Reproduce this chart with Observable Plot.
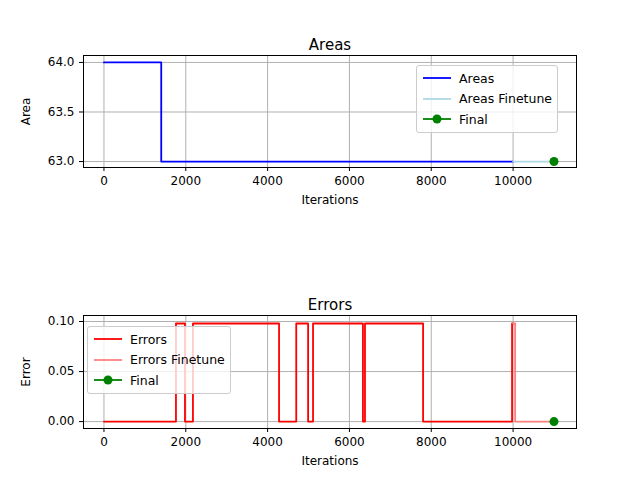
<!DOCTYPE html>
<html><head><meta charset="utf-8">
<script src="https://cdn.jsdelivr.net/npm/d3@7"></script>
<script src="https://cdn.jsdelivr.net/npm/@observablehq/plot@0.6"></script>
<style>
body{margin:0;background:#fff;font-family:"DejaVu Sans",sans-serif}
.panel{position:relative;width:640px;height:240px}
.legend{position:absolute;background:rgba(255,255,255,0.8);border:1px solid #ccc;border-radius:3px;font-size:12.5px;padding:2px 5px 2px 6px}
.legend div{display:flex;align-items:center;height:20.5px}
.legend svg{margin-right:8px}
</style></head><body>
<div id="top" class="panel"></div>
<div id="bottom" class="panel"></div>
<script>
// Areas (step series)
const areaX = [0, 1400, 9999];
const areaY = [64, 63, 63];
const areaFtX = [10000, 11000];
const areaFtY = [63, 63];
// Errors (step series)
const errX = [0, 1760, 1980, 2175, 4280, 4700, 4990, 5110, 6330, 6380, 7800, 9975, 9999];
const errY = [0, 0.098, 0, 0.098, 0, 0.098, 0, 0.098, 0, 0.098, 0, 0.098, 0.098];
const errFtX = [10000, 10050, 11000];
const errFtY = [0.098, 0, 0];
const finalX = 11000;
const finalArea = 63;
const finalErr = 0;

const pts = (xs, ys) => xs.map((x, i) => ({x, y: ys[i]}));

function panel(opts) {
  return Plot.plot({
    width: 640, height: 240,
    marginLeft: 83, marginRight: 64, marginTop: opts.mt, marginBottom: opts.mb,
    style: {fontFamily: "DejaVu Sans", fontSize: "12px", color: "#000"},
    x: {domain: [-500, 11550], ticks: [0, 2000, 4000, 6000, 8000, 10000], tickFormat: d => String(d),
        label: "Iterations", labelAnchor: "center", labelOffset: 36, labelArrow: "none", grid: false, tickSize: 4},
    y: {domain: opts.ydom, ticks: opts.yticks, tickFormat: opts.fmt, label: opts.ylabel,
        labelAnchor: "center", labelOffset: 62, labelArrow: "none", tickSize: 4},
    marks: [
      Plot.gridX([0, 2000, 4000, 6000, 8000, 10000], {stroke: "#b0b0b0", strokeOpacity: 1}),
      Plot.gridY(opts.yticks, {stroke: "#b0b0b0", strokeOpacity: 1}),
      Plot.line(opts.main, {x: "x", y: "y", curve: "step-after", stroke: opts.c1, strokeWidth: 1.8}),
      Plot.line(opts.ft, {x: "x", y: "y", curve: "step-after", stroke: opts.c2, strokeWidth: 1.8}),
      Plot.dot([opts.fin], {x: "x", y: "y", r: 4.5, fill: "green"}),
      Plot.frame({stroke: "#000"}),
      Plot.text([opts.title], {frameAnchor: "top", dy: -6, fontSize: 15, textAnchor: "middle", lineAnchor: "bottom"})
    ]
  });
}

document.getElementById("top").appendChild(panel({
  mt: 55, mb: 73, ydom: [62.94, 64.07], yticks: [63, 63.5, 64], fmt: d3.format(".1f"), ylabel: "Area",
  main: pts(areaX, areaY), ft: pts(areaFtX, areaFtY), fin: {x: finalX, y: finalArea},
  c1: "blue", c2: "lightblue", title: "Areas"
}));
document.getElementById("bottom").appendChild(panel({
  mt: 75, mb: 52, ydom: [-0.0069, 0.106], yticks: [0, 0.05, 0.1], fmt: d3.format(".2f"), ylabel: "Error",
  main: pts(errX, errY), ft: pts(errFtX, errFtY), fin: {x: finalX, y: finalErr},
  c1: "red", c2: "#ff7f7f", title: "Errors"
}));

function legend(parent, items, left, top) {
  const box = document.createElement("div");
  box.className = "legend";
  box.style.left = left + "px"; box.style.top = top + "px";
  for (const [name, color, dot] of items) {
    const row = document.createElement("div");
    row.innerHTML = `<svg width="28" height="10"><line x1="0" x2="28" y1="5" y2="5" stroke="${color}" stroke-width="1.8"/>` +
      (dot ? `<circle cx="14" cy="5" r="4.5" fill="${color}"/>` : "") + `</svg>${name}`;
    box.appendChild(row);
  }
  document.getElementById(parent).appendChild(box);
}
legend("top", [["Areas", "blue"], ["Areas Finetune", "lightblue"], ["Final", "green", true]], 416, 65);
legend("bottom", [["Errors", "red"], ["Errors Finetune", "#ff7f7f"], ["Final", "green", true]], 87, 86);
</script>
</body></html>
